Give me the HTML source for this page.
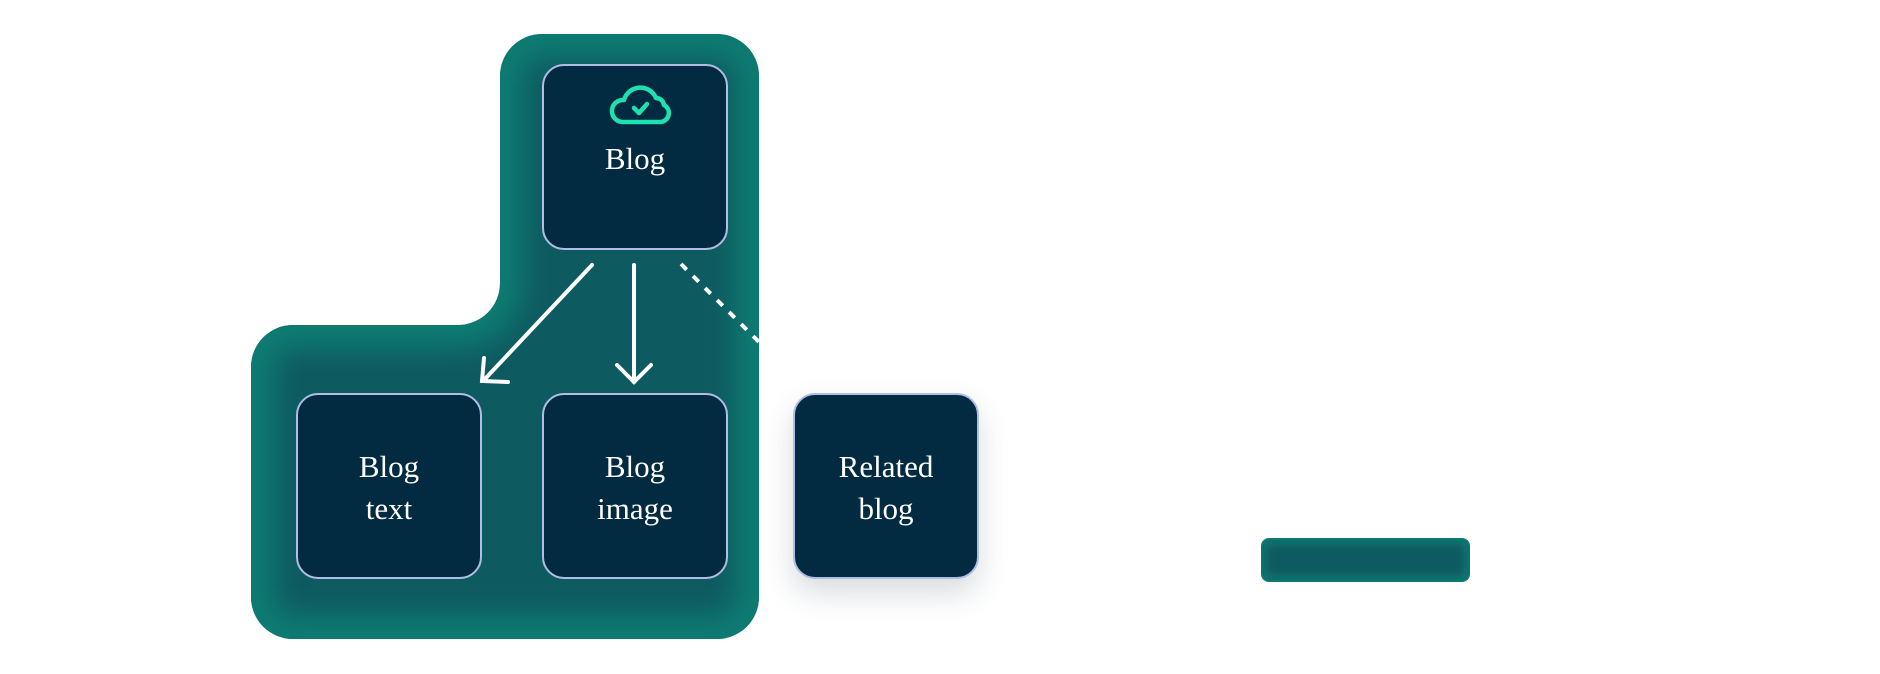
<!DOCTYPE html>
<html><head><meta charset="utf-8"><style>
html,body{margin:0;padding:0;background:#fff;width:1880px;height:674px;overflow:hidden}
.n{position:absolute;width:182px;height:182px;background:#022b41;border:2px solid #b2bde6;border-radius:22px;color:#fff;font-family:"Liberation Serif",serif;font-size:31px;line-height:42px;text-align:center;box-sizing:content-box}
.t{position:absolute;left:0;right:0}
</style></head><body>
<svg width="1880" height="674" style="position:absolute;left:0;top:0">
<defs>
<clipPath id="c"><path id="p" d="M542 34 H717 A42 42 0 0 1 759 76 V597 A42 42 0 0 1 717 639 H293 A42 42 0 0 1 251 597 V367 A42 42 0 0 1 293 325 H458 A42 42 0 0 0 500 283 V76 A42 42 0 0 1 542 34 Z"/></clipPath>
<filter id="b" x="-20%" y="-20%" width="140%" height="140%"><feGaussianBlur stdDeviation="14"/></filter>
<filter id="b2"><feGaussianBlur stdDeviation="5"/></filter>
<clipPath id="c2"><rect x="1261" y="538" width="209" height="44" rx="8"/></clipPath>
</defs>
<g clip-path="url(#c)">
<rect x="240" y="20" width="540" height="640" fill="#0e7c72"/>
<use href="#p" fill="#0c5a61" stroke="#0e7c72" stroke-width="44" filter="url(#b)"/>
</g>
<g clip-path="url(#c2)">
<rect x="1255" y="530" width="220" height="60" fill="#0e7c72"/>
<rect x="1265" y="543" width="201" height="34" fill="#0c5a61" filter="url(#b2)"/>
</g>
<g stroke="#fff" stroke-width="4" fill="none" stroke-linecap="round">
<line x1="592" y1="265" x2="484" y2="380"/>
<polyline points="484,358 482,381 508,382"/>
<line x1="634" y1="265" x2="634" y2="382"/>
<polyline points="617,365 634,382 651,365"/>
<line x1="681" y1="264" x2="759" y2="342" stroke-dasharray="8 9" stroke-linecap="butt"/>
</g>
</svg>
<div class="n" style="left:542px;top:64px">
<svg style="position:absolute;left:62px;top:12px" width="68" height="48" viewBox="0 0 68 48"><path d="M16 44 H54 A9 9 0 0 0 58 27 A8 8 0 0 0 50 20 A17 17 0 0 0 18 22 A11 11 0 0 0 16 44 Z" fill="none" stroke="#1fe0b0" stroke-width="4.5" stroke-linejoin="round"/><polyline points="28,30 33,35 41,26" fill="none" stroke="#1fe0b0" stroke-width="4.5" stroke-linecap="round" stroke-linejoin="round"/></svg>
<div class="t" style="top:72px">Blog</div></div>
<div class="n" style="left:296px;top:393px"><div class="t" style="top:51px">Blog<br>text</div></div>
<div class="n" style="left:542px;top:393px"><div class="t" style="top:51px">Blog<br>image</div></div>
<div class="n" style="left:793px;top:393px;box-shadow:0 14px 30px rgba(40,60,80,0.18)"><div class="t" style="top:51px">Related<br>blog</div></div>
</body></html>
